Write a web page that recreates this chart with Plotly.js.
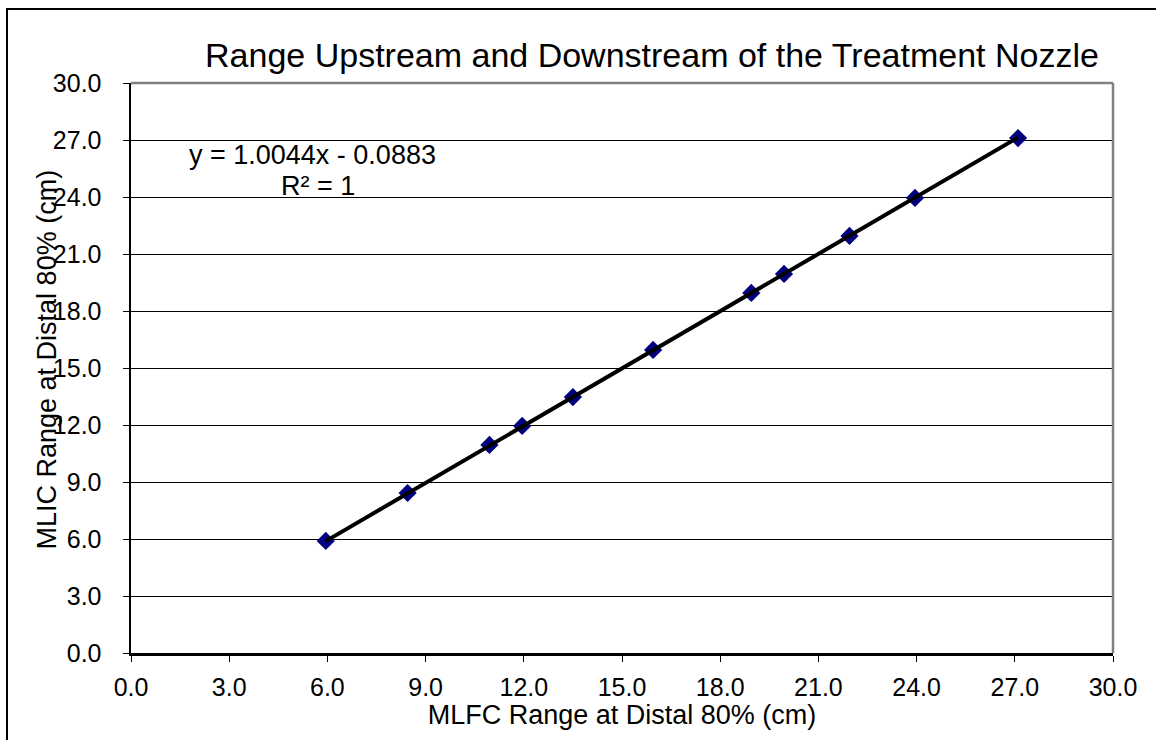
<!DOCTYPE html>
<html>
<head>
<meta charset="utf-8">
<script src="https://cdn.plot.ly/plotly-3.0.1.min.js"></script>
<style>
html,body{margin:0;padding:0;background:#fff;}
#frame{position:absolute;left:6px;top:8px;width:1160px;height:740px;border-left:2px solid #000;border-top:2px solid #000;}
#chart{position:absolute;left:0;top:0;width:1156px;height:740px;}
</style>
</head>
<body>
<div id="frame"></div>
<div id="chart"></div>
<script>
const mlfcRange = [5.95, 8.45, 10.95, 11.95, 13.5, 15.95, 18.95, 19.95, 21.95, 23.95, 27.1];
const mlicRange = [5.9, 8.42, 10.95, 11.95, 13.47, 15.95, 18.95, 19.95, 21.95, 23.95, 27.1];
const tickVals = [0, 3, 6, 9, 12, 15, 18, 21, 24, 27, 30];
const tickText = ["0.0","3.0","6.0","9.0","12.0","15.0","18.0","21.0","24.0","27.0","30.0"];
const slope = 1.0044, intercept = -0.0883;
const fitX = [mlfcRange[0], mlfcRange[mlfcRange.length-1]];
const fitY = fitX.map(v => slope*v + intercept);

const font = "Liberation Sans, Arial, sans-serif";
const traces = [
  {x: mlfcRange, y: mlicRange, mode: 'markers', type: 'scatter',
   marker: {symbol: 'diamond', size: 14, color: '#000080'}},
  {x: fitX, y: fitY, mode: 'lines', type: 'scatter',
   line: {color: '#000', width: 4}}
];
const layout = {
  width: 1156, height: 740,
  margin: {l: 131, r: 43, t: 83, b: 87},
  paper_bgcolor: 'rgba(0,0,0,0)', plot_bgcolor: '#fff',
  showlegend: false,
  font: {family: font, color: '#000', size: 25},
  title: {text: 'Range Upstream and Downstream of the Treatment Nozzle',
          font: {size: 34, family: font, color: '#000'}, x: 0.564, xanchor: 'center', y: 0.925, yanchor: 'middle'},
  xaxis: {range: [0, 30], tickvals: tickVals, ticktext: tickText, ticks: 'outside', ticklen: 6, tickcolor: '#000',
          showline: true, linecolor: '#000', linewidth: 2.5, mirror: false, showgrid: false, zeroline: false,
          tickfont: {size: 25}, ticklabelstandoff: 4,
          title: {text: 'MLFC Range at Distal 80% (cm)', font: {size: 27}, standoff: 5}},
  yaxis: {range: [0, 30], tickvals: tickVals, ticktext: tickText, ticks: 'outside', ticklen: 6, tickcolor: '#000',
          showline: true, linecolor: '#000', linewidth: 2.5, showgrid: true, gridcolor: '#000', gridwidth: 1,
          zeroline: false, tickfont: {size: 25}, ticklabelstandoff: 16},
  shapes: [
    {type: 'line', xref: 'paper', yref: 'paper', x0: 0, x1: 1, y0: 1, y1: 1, line: {color: '#808080', width: 2.5}},
    {type: 'line', xref: 'paper', yref: 'paper', x0: 1, x1: 1, y0: 0, y1: 1, line: {color: '#808080', width: 2.5}}
  ],
  annotations: [
    {text: 'MLIC Range at Distal 80% (cm)', xref: 'paper', yref: 'paper', x: -0.0855, y: 0.515, textangle: -90,
     showarrow: false, xanchor: 'center', yanchor: 'middle', font: {size: 27}},
    {text: 'y = 1.0044x - 0.0883', xref: 'x', yref: 'y', x: 5.53, y: 26.2, showarrow: false,
     xanchor: 'center', yanchor: 'middle', font: {size: 27}},
    {text: 'R² = 1', xref: 'x', yref: 'y', x: 5.7, y: 24.6, showarrow: false,
     xanchor: 'center', yanchor: 'middle', font: {size: 27}}
  ]
};
Plotly.newPlot('chart', traces, layout, {displayModeBar: false, staticPlot: true});
</script>
</body>
</html>
